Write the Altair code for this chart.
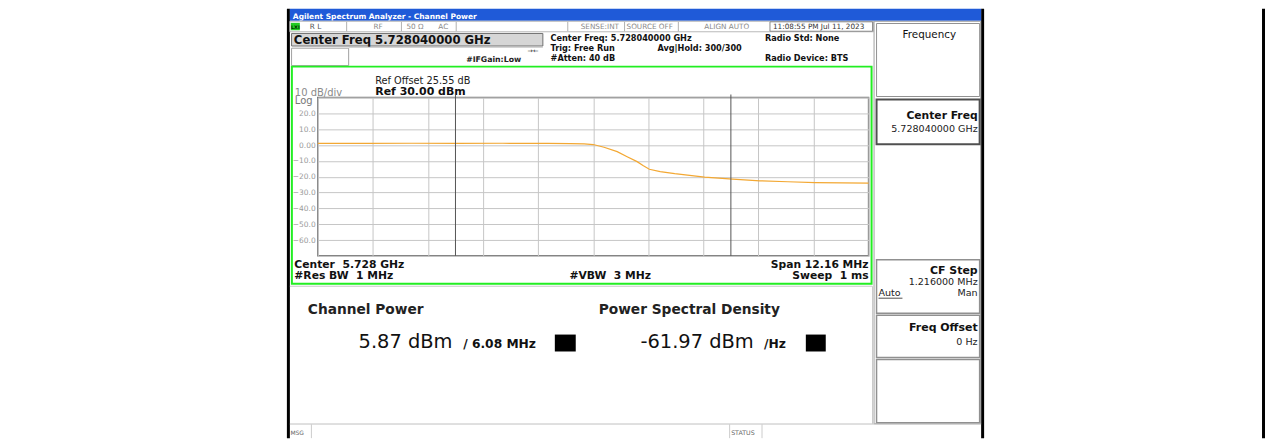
import altair as alt
import pandas as pd

# ---------------- data ----------------
freq_offset_mhz = [-6.08, -5.0, -4.0, -3.0, -2.0, -1.0, -0.5, -0.2, 0.0, 0.24, 0.53,
                   0.75, 0.97, 1.1, 1.24, 1.48, 1.8, 2.46, 3.08, 3.68, 4.3, 4.9, 5.5, 6.08]
power_dbm = [1.0, 1.0, 1.1, 1.0, 1.1, 1.0, 0.9, 0.7, 0.3, -1.4, -4.2,
             -7.4, -10.5, -13.0, -15.3, -16.8, -18.1, -20.3, -21.6, -22.6, -23.2, -23.7, -23.9, -24.1]
channel_edges_mhz = [-3.04, 3.04]
span_mhz = 12.16
ref_level = 30
db_per_div = 10
n_div = 10
y_tick_values = [30, 20, 10, 0, -10, -20, -30, -40, -50, -60, -70]

FONT = "DejaVu Sans"
NB = "\u00a0"
OX, OY = 319, 97          # page position of the plot area's top-left corner
W, H = 553, 159
TOTAL_W, TOTAL_H = 1263, 431

trace = pd.DataFrame({"f": freq_offset_mhz, "p": power_dbm})
edges = pd.DataFrame({"f": channel_edges_mhz})
dummy = pd.DataFrame({"d": [0]})

half = span_mhz / 2
x_grid = [-half + k * span_mhz / n_div for k in range(n_div + 1)]

xs = alt.Scale(domain=[-half, half], nice=False, zero=False)
ys = alt.Scale(domain=[ref_level - db_per_div * n_div, ref_level], nice=False, zero=False)


def R(x1, y1, x2, y2, fill=None, stroke=None, sw=1.0):
    kw = {}
    if fill is None:
        kw["fillOpacity"] = 0
        kw["fill"] = "white"
    else:
        kw["fill"] = fill
    if stroke:
        kw["stroke"] = stroke
        kw["strokeWidth"] = sw
    else:
        kw["strokeWidth"] = 0
    return alt.Chart(dummy).mark_rect(**kw).encode(
        x=alt.value(x1 - OX), x2=alt.value(x2 - OX),
        y=alt.value(y1 - OY), y2=alt.value(y2 - OY))


def L(x1, y1, x2, y2, color="#b0b0b0", sw=1.0):
    return alt.Chart(dummy).mark_rule(color=color, strokeWidth=sw).encode(
        x=alt.value(x1 - OX), x2=alt.value(x2 - OX),
        y=alt.value(y1 - OY), y2=alt.value(y2 - OY))


def T(s, x, y, size, bold=False, color="#111111", align="left"):
    return alt.Chart(dummy).mark_text(
        text=s.replace("  ", NB + NB), font=FONT, fontSize=size,
        fontWeight="bold" if bold else "normal",
        color=color, align=align, baseline="alphabetic").encode(
        x=alt.value(x - OX), y=alt.value(y - OY))


layers = []

# outer black frame lines
layers += [R(288, 8, 291, 439, fill="#000000"),
           R(985, 8, 988, 439, fill="#000000"),
           R(1267, 8, 1270, 439, fill="#000000")]

# title bar
layers += [R(291, 8, 985, 20, fill="#1f5ad8"),
           T("Agilent Spectrum Analyzer - Channel Power", 294, 18, 7.5, True, "#ffffff")]

# status row
layers += [R(291, 20.5, 877, 31, fill="#ffffff", stroke="#b8b8b8", sw=1),
           R(292, 22, 301, 29.5, fill="#22cc22"),
           T("LXI", 296.5, 28.3, 5, True, "#003300", "center"),
           T("R L", 311, 28.5, 7.3, False, "#555555"),
           L(348, 21, 348, 30.5), L(403, 21, 403, 30.5), L(458, 21, 458, 30.5),
           L(570, 21, 570, 30.5), L(627, 21, 627, 30.5), L(681, 21, 681, 30.5),
           T("RF", 375, 28.5, 7.3, False, "#8a8a8a"),
           T("50 Ω", 408, 28.5, 7.3, False, "#8a8a8a"),
           T("AC", 440, 28.5, 7.3, False, "#8a8a8a"),
           T("SENSE:INT", 583, 28.5, 7.3, False, "#8a8a8a"),
           T("SOURCE OFF", 629, 28.5, 7.3, False, "#8a8a8a"),
           T("ALIGN AUTO", 707, 28.5, 7.3, False, "#8a8a8a"),
           R(773, 21, 876, 30.5, fill="#ffffff", stroke="#888888", sw=1),
           T("11:08:55 PM Jul 11, 2023", 776, 28.5, 7.3, False, "#333333")]

# header
layers += [R(292.7, 32.7, 545, 45.3, fill="#d6d6d6", stroke="#707070", sw=1),
           T("Center Freq 5.728040000 GHz", 295, 43.6, 11.7, True, "#111111"),
           R(292.7, 47.5, 350, 65, stroke="#a0a0a0", sw=1),
           L(350, 46.5, 545, 46.5, "#c0c0c0", 1),
           T("→←", 535, 52, 6.5, False, "#333333", "center"),
           T("#IFGain:Low", 468, 61.5, 7.8, True, "#222222"),
           T("Center Freq: 5.728040000 GHz", 552.7, 40.5, 8.2, True),
           T("Trig: Free Run", 552.7, 50.5, 8.2, True),
           T("#Atten: 40 dB", 552.7, 60.5, 8.2, True),
           T("Avg|Hold: 300/300", 660, 50.5, 8.2, True),
           T("Radio Std: None", 768, 40.5, 8.2, True),
           T("Radio Device: BTS", 768, 60.5, 8.2, True)]

# graph window
layers += [R(293, 66, 875, 284, stroke="#22ee22", sw=2),
           T("Ref Offset 25.55 dB", 376.7, 83.3, 9.8, False, "#222222"),
           T("Ref 30.00 dBm", 376.7, 94, 11, True, "#111111"),
           T("10 dB/div", 296, 95, 10, False, "#8a8a8a"),
           T("Log", 296, 104, 10, False, "#777777"),
           T("Center  5.728 GHz", 295.5, 268.3, 10.8, True),
           T("#Res BW  1 MHz", 295.5, 279.5, 10.8, True),
           T("#VBW  3 MHz", 571.7, 279.5, 10.8, True),
           T("Span 12.16 MHz", 872, 268.3, 10.8, True, "#111111", "right"),
           T("Sweep  1 ms", 872, 279.5, 10.8, True, "#111111", "right")]

# results area
layers += [L(291, 286.5, 876, 286.5, "#c8c8c8", 1),
           L(876, 286.5, 876, 424.5, "#c8c8c8", 1),
           T("Channel Power", 309, 314, 13.8, True, "#222222"),
           T("Power Spectral Density", 601, 314, 13.8, True, "#222222"),
           T("5.87 dBm", 360, 348.3, 19.5, False, "#111111"),
           T("/ 6.08 MHz", 465, 348, 12.3, True, "#111111"),
           R(557, 335, 578, 352, fill="#000000"),
           T("-61.97 dBm", 643, 348.3, 19.5, False, "#111111"),
           T("/Hz", 767, 348, 12.3, True, "#111111"),
           R(809, 335, 829, 352, fill="#000000")]

# right soft-key panel
layers += [R(877.5, 20.5, 984.5, 424.5, fill="#ffffff", stroke="#a0a0a0", sw=1),
           R(880, 22.7, 983.5, 96, fill="#ffffff", stroke="#909090", sw=1),
           T("Frequency", 933, 37, 10.4, False, "#111111", "center"),
           R(880, 99, 983.5, 144, fill="#ffffff", stroke="#505050", sw=2),
           T("Center Freq", 981.5, 118.3, 10.8, True, "#111111", "right"),
           T("5.728040000 GHz", 981.5, 132, 9.6, False, "#222222", "right"),
           R(880, 260, 983.5, 313.5, fill="#ffffff", stroke="#909090", sw=1.5),
           T("CF Step", 981.5, 274.5, 11, True, "#111111", "right"),
           T("1.216000 MHz", 981.5, 285, 9.6, False, "#222222", "right"),
           T("Auto", 882, 296.7, 9.6, False, "#222222"),
           L(882, 298.5, 906, 298.5, "#222222", 0.8),
           T("Man", 981.5, 296.7, 9.6, False, "#222222", "right"),
           R(880, 315.5, 983.5, 358, fill="#ffffff", stroke="#909090", sw=1.5),
           T("Freq Offset", 981.5, 331.7, 11, True, "#111111", "right"),
           T("0 Hz", 981.5, 345, 9.6, False, "#222222", "right"),
           R(880, 360, 983.5, 423.5, fill="#ffffff", stroke="#909090", sw=1.5)]

# message / status bar
layers += [L(291, 424.8, 985, 424.8, "#c0c0c0", 1),
           T("MSG", 291.5, 436, 6, False, "#666666"),
           L(312.6, 425, 312.6, 439, "#cccccc", 1),
           L(732.5, 425, 732.5, 439, "#cccccc", 1),
           L(765, 425, 765, 439, "#cccccc", 1),
           T("STATUS", 734, 436, 6.3, False, "#666666")]

# ---------------- spectrum plot ----------------
base = alt.Chart(trace).mark_line(color="#f3a833", strokeWidth=1.2).encode(
    x=alt.X("f:Q", scale=xs,
            axis=alt.Axis(values=x_grid, grid=True, labels=False, ticks=False,
                          domain=False, title=None, gridColor="#c6c6c6", gridWidth=1)),
    y=alt.Y("p:Q", scale=ys,
            axis=alt.Axis(values=y_tick_values, grid=True, ticks=False, tickSize=0,
                          domain=False, title=None, gridColor="#c6c6c6", gridWidth=1,
                          labelExpr="datum.value == 30 || datum.value == -70 ? '' : (datum.value == 0 ? '0.00' : format(datum.value, '.1f'))",
                          labelFont=FONT, labelFontSize=7.5, labelColor="#9a9a9a",
                          labelPadding=2.6)),
)

chan = alt.Chart(edges).mark_rule(color="#555555", strokeWidth=1).encode(
    x=alt.X("f:Q", scale=xs), y=alt.value(-3), y2=alt.value(H))

chart = alt.layer(*layers, base, chan).properties(
    width=W, height=H,
    autosize=alt.AutoSizeParams(type="none"),
    padding={"left": OX - 8, "top": OY - 8,
             "right": TOTAL_W - (OX - 8) - W, "bottom": TOTAL_H - (OY - 8) - H},
).configure(background="#ffffff").configure_view(stroke="#7a7a7a", strokeWidth=1.5)

chart.save("out.html", embed_options={"renderer": "svg", "actions": False})
